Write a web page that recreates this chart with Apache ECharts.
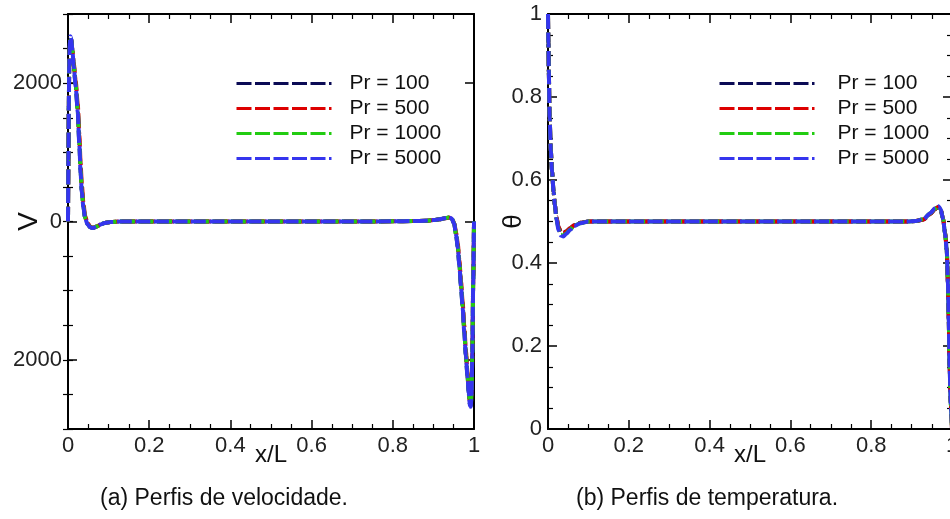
<!DOCTYPE html>
<html>
<head>
<meta charset="utf-8">
<script src="https://cdn.jsdelivr.net/npm/echarts@6/dist/echarts.min.js"></script>
<style>
html,body{margin:0;padding:0;background:#fff;}
#chart{width:950px;height:519px;}
</style>
</head>
<body>
<div id="chart"></div>
<script>
// ---------- data ----------
const seriesNames = ['Pr = 100', 'Pr = 500', 'Pr = 1000', 'Pr = 5000'];
const seriesColors = ['#0b0b55', '#dd0000', '#22cc11', '#3535ee'];

const xTicksLabels = [0, 0.2, 0.4, 0.6, 0.8, 1];
const vTickLabels = [-2000, 0, 2000];

// velocity profiles V(x/L)
const xV = [0, 0.001, 0.002, 0.003, 0.0045, 0.006, 0.008, 0.011, 0.014, 0.019, 0.024, 0.028, 0.031, 0.034, 0.038, 0.042, 0.048, 0.055, 0.062, 0.07, 0.08, 0.09, 0.105, 0.13,
  0.2, 0.3, 0.4, 0.5, 0.6, 0.7, 0.8,
  0.85, 0.88, 0.9, 0.915, 0.928, 0.938, 0.945, 0.951, 0.956, 0.96, 0.964, 0.968, 0.972, 0.976, 0.98, 0.984, 0.987, 0.99, 0.992, 0.994, 0.996, 0.998, 1.0];
const vPr100 = [0, 880, 1680, 2230, 2560, 2660, 2630, 2460, 2260, 1970, 1610, 1140, 740, 450, 215, 58, -35, -82, -93, -74, -44, -21, -8, 0,
  0, 0, 0, 0, 0, 0, 2,
  6, 12, 20, 31, 47, 57, 46, -25, -190, -365, -620, -925, -1225, -1575, -1925, -2230, -2460, -2640, -2660, -2490, -1900, -900, 0];
const vPr500 = [0, 850, 1650, 2200, 2540, 2650, 2630, 2480, 2300, 2030, 1700, 1250, 850, 540, 270, 85, -20, -75, -90, -73, -44, -21, -8, 0,
  0, 0, 0, 0, 0, 0, 2,
  6, 12, 20, 31, 46, 56, 47, -15, -160, -320, -560, -860, -1160, -1500, -1860, -2180, -2420, -2620, -2650, -2480, -1900, -900, 0];
const vPr1000 = [0, 880, 1680, 2230, 2560, 2660, 2630, 2460, 2260, 1970, 1610, 1140, 740, 450, 215, 58, -35, -82, -93, -74, -44, -21, -8, 0,
  0, 0, 0, 0, 0, 0, 2,
  6, 12, 20, 31, 47, 57, 46, -25, -190, -365, -620, -925, -1225, -1575, -1925, -2230, -2460, -2640, -2660, -2490, -1900, -900, 0];
const vPr5000 = [0, 900, 1700, 2250, 2580, 2680, 2640, 2460, 2250, 1950, 1580, 1100, 700, 420, 200, 50, -40, -85, -95, -75, -45, -22, -8, 0,
  0, 0, 0, 0, 0, 0, 2,
  6, 12, 20, 32, 48, 58, 45, -30, -200, -380, -640, -950, -1250, -1600, -1950, -2250, -2480, -2660, -2680, -2500, -1900, -900, 0];

// temperature profiles theta(x/L)
const xT = [0, 0.001, 0.002, 0.004, 0.007, 0.01, 0.014, 0.017, 0.021, 0.026, 0.032, 0.038, 0.045, 0.055, 0.065, 0.08, 0.1,
  0.2, 0.3, 0.4, 0.5, 0.6, 0.7, 0.8,
  0.85, 0.89, 0.91, 0.93, 0.946, 0.958, 0.966, 0.972, 0.978, 0.983, 0.987, 0.99, 0.992, 0.994, 0.997, 1.0];
const tPr100 = [1.0, 0.93, 0.86, 0.75, 0.67, 0.62, 0.57, 0.54, 0.51, 0.487, 0.474, 0.472, 0.476, 0.484, 0.491, 0.497, 0.5,
  0.5, 0.5, 0.5, 0.5, 0.5, 0.5, 0.5,
  0.5, 0.5, 0.501, 0.505, 0.518, 0.53, 0.535, 0.529, 0.506, 0.472, 0.432, 0.352, 0.262, 0.152, 0.062, 0.0];
const tPr500 = [1.0, 0.93, 0.86, 0.75, 0.67, 0.62, 0.57, 0.54, 0.51, 0.487, 0.474, 0.472, 0.476, 0.484, 0.491, 0.497, 0.5,
  0.5, 0.5, 0.5, 0.5, 0.5, 0.5, 0.5,
  0.5, 0.5, 0.501, 0.505, 0.518, 0.53, 0.535, 0.529, 0.506, 0.472, 0.432, 0.352, 0.262, 0.152, 0.062, 0.0];
const tPr1000 = [1.0, 0.93, 0.86, 0.75, 0.67, 0.62, 0.57, 0.54, 0.506, 0.482, 0.468, 0.466, 0.471, 0.481, 0.49, 0.496, 0.5,
  0.5, 0.5, 0.5, 0.5, 0.5, 0.5, 0.5,
  0.5, 0.5, 0.501, 0.506, 0.52, 0.531, 0.536, 0.529, 0.505, 0.47, 0.43, 0.35, 0.26, 0.15, 0.06, 0.0];
const tPr5000 = [1.0, 0.93, 0.86, 0.75, 0.67, 0.62, 0.57, 0.54, 0.505, 0.48, 0.466, 0.464, 0.47, 0.48, 0.489, 0.496, 0.5,
  0.5, 0.5, 0.5, 0.5, 0.5, 0.5, 0.5,
  0.5, 0.5, 0.501, 0.506, 0.52, 0.532, 0.537, 0.53, 0.505, 0.47, 0.43, 0.35, 0.26, 0.15, 0.06, 0.0];

const captions = ['(a) Perfis de velocidade.', '(b) Perfis de temperatura.'];

// ---------- chart ----------
const FONT = "'Liberation Sans', Arial, Helvetica, sans-serif";
const zip = (xs, ys) => xs.map((x, i) => [x, ys[i]]);
const vData = [vPr100, vPr500, vPr1000, vPr5000];
const tData = [tPr100, tPr500, tPr1000, tPr5000];

function xAx(gridIndex, bottom) {
  return {
    type: 'value', gridIndex, min: 0, max: 1, interval: 0.2,
    position: bottom ? 'bottom' : 'top',
    axisLine: { show: true, onZero: false, lineStyle: { color: '#000', width: 2 } },
    axisTick: { show: true, inside: true, length: 9, lineStyle: { color: '#000', width: 1.5 } },
    minorTick: { show: true, splitNumber: 4, length: 5, lineStyle: { color: '#000', width: 1.2 } },
    axisLabel: { show: bottom, margin: 6, fontSize: 22, color: '#222', fontFamily: FONT },
    splitLine: { show: false }, minorSplitLine: { show: false },
    name: bottom ? 'x/L' : '', nameLocation: 'middle', nameGap: 14, nameMoveOverlap: false,
    nameTextStyle: { fontSize: 24, color: '#111', fontFamily: FONT }
  };
}

const yBase = {
  type: 'value',
  splitLine: { show: false },
  axisLine: { show: true, onZero: false, lineStyle: { color: '#000', width: 2 } },
  axisTick: { show: true, inside: true, length: 9, lineStyle: { color: '#000', width: 1.5 } },
  axisLabel: { show: false },
  nameMoveOverlap: false
};

const option = {
  animation: false,
  backgroundColor: '#fff',
  grid: [
    { left: 68, right: 476, top: 14, bottom: 90, containLabel: false, outerBoundsMode: 'none' },
    { left: 548, right: -2, top: 14, bottom: 90, containLabel: false, outerBoundsMode: 'none' }
  ],
  xAxis: [xAx(0, true), xAx(0, false), xAx(1, true), xAx(1, false)],
  yAxis: [
    // left chart: left major
    Object.assign({}, yBase, {
      gridIndex: 0, position: 'left', min: -3000, max: 3000,
      axisTick: { show: true, inside: true, length: 9, customValues: vTickLabels, lineStyle: { color: '#000', width: 1.5 } },
      axisLabel: { show: true, customValues: vTickLabels, margin: 6, fontSize: 22, color: '#222', fontFamily: FONT,
        formatter: v => String(Math.abs(v)) },
      name: 'V', nameLocation: 'middle', nameGap: 25,
      nameTextStyle: { fontSize: 28, color: '#111', fontFamily: FONT }
    }),
    // left chart: left minor
    Object.assign({}, yBase, {
      gridIndex: 0, position: 'left', min: -3000, max: 3000, interval: 500,
      axisLine: { show: false },
      axisTick: { show: true, inside: true, length: 5, lineStyle: { color: '#000', width: 1.2 } }
    }),
    // left chart: right major
    Object.assign({}, yBase, {
      gridIndex: 0, position: 'right', min: -3000, max: 3000,
      axisTick: { show: true, inside: true, length: 9, customValues: vTickLabels, lineStyle: { color: '#000', width: 1.5 } }
    }),
    // left chart: right minor
    Object.assign({}, yBase, {
      gridIndex: 0, position: 'right', min: -3000, max: 3000, interval: 500,
      axisLine: { show: false },
      axisTick: { show: true, inside: true, length: 5, lineStyle: { color: '#000', width: 1.2 } }
    }),
    // right chart: left
    Object.assign({}, yBase, {
      gridIndex: 1, position: 'left', min: 0, max: 1, interval: 0.2,
      minorTick: { show: true, splitNumber: 4, length: 5, lineStyle: { color: '#000', width: 1.2 } },
      axisLabel: { show: true, margin: 6, fontSize: 22, color: '#222', fontFamily: FONT },
      name: 'θ', nameLocation: 'middle', nameGap: 21,
      nameTextStyle: { fontSize: 26, color: '#111', fontFamily: FONT }
    }),
    // right chart: right
    Object.assign({}, yBase, {
      gridIndex: 1, position: 'right', min: 0, max: 1, interval: 0.2,
      minorTick: { show: true, splitNumber: 4, length: 5, lineStyle: { color: '#000', width: 1.2 } }
    })
  ],
  legend: [
    {
      left: 235, top: 73, padding: 0, orient: 'vertical', itemWidth: 95, itemHeight: 14, itemGap: 4,
      selectedMode: false, data: seriesNames,
      lineStyle: { width: 3 }, itemStyle: { opacity: 0 },
      textStyle: { fontSize: 21, color: '#111', fontFamily: FONT, padding: [0, 0, 0, 13], lineHeight: 21 }
    },
    {
      left: 718, top: 73, padding: 0, orient: 'vertical', itemWidth: 95, itemHeight: 14, itemGap: 4,
      selectedMode: false, data: seriesNames,
      lineStyle: { width: 3 }, itemStyle: { opacity: 0 },
      textStyle: { fontSize: 21, color: '#111', fontFamily: FONT, padding: [0, 0, 0, 18], lineHeight: 21 }
    }
  ],
  graphic: [
    { type: 'text', left: 214 - 114, top: 487, style: { text: captions[0], font: "23px " + FONT, fill: '#111' } },
    { type: 'text', left: 733 - 157, top: 487, style: { text: captions[1], font: "23px " + FONT, fill: '#111' } }
  ],
  series: []
};

seriesNames.forEach((name, i) => {
  option.series.push({
    name, type: 'line', xAxisIndex: 0, yAxisIndex: 0, symbol: 'none', smooth: 0.25, smoothMonotone: 'x',
    data: zip(xV, vData[i]), color: seriesColors[i],
    lineStyle: { color: seriesColors[i], width: 4, type: [15, 3.5] }, z: 2 + i
  });
});
seriesNames.forEach((name, i) => {
  option.series.push({
    name, type: 'line', xAxisIndex: 2, yAxisIndex: 4, symbol: 'none', smooth: 0.25, smoothMonotone: 'x',
    data: zip(xT, tData[i]), color: seriesColors[i],
    lineStyle: { color: seriesColors[i], width: 4, type: [15, 3.5] }, z: 2 + i
  });
});

const chart = echarts.init(document.getElementById('chart'), null, { renderer: 'canvas' });
chart.setOption(option);
</script>
</body>
</html>
